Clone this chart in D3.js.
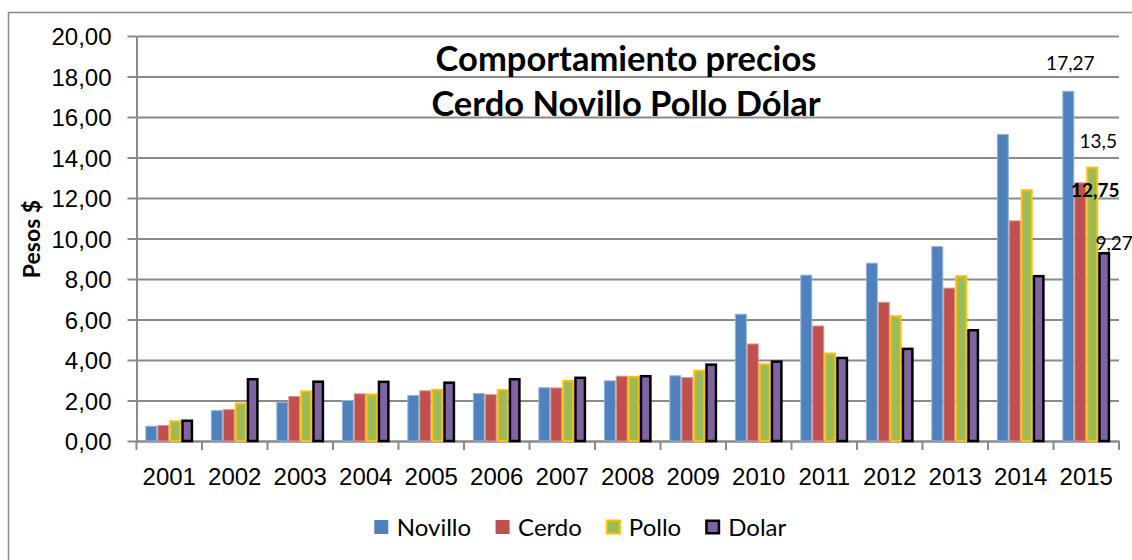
<!DOCTYPE html>
<html>
<head>
<meta charset="utf-8">
<script src="https://cdn.jsdelivr.net/npm/d3@7"></script>
<style>
  body { margin: 0; background: #fff; }
  svg { display: block; font-family: Lato, "Open Sans", sans-serif; }
</style>
</head>
<body>
<div id="chart"></div>
<script>
// data
var years = ['2001', '2002', '2003', '2004', '2005', '2006', '2007', '2008', '2009', '2010', '2011', '2012', '2013', '2014', '2015'];
var seriesNames = ['Novillo', 'Cerdo', 'Pollo', 'Dolar'];
var novillo = [0.73, 1.50, 1.90, 2.00, 2.25, 2.35, 2.63, 2.97, 3.22, 6.26, 8.19, 8.78, 9.60, 15.14, 17.27];
var cerdo = [0.77, 1.55, 2.20, 2.33, 2.48, 2.29, 2.62, 3.20, 3.13, 4.79, 5.68, 6.85, 7.55, 10.87, 12.75];
var pollo = [0.97, 1.85, 2.45, 2.30, 2.53, 2.52, 2.97, 3.17, 3.47, 3.79, 4.32, 6.16, 8.14, 12.39, 13.50];
var dolar = [1.00, 3.05, 2.93, 2.92, 2.88, 3.05, 3.12, 3.20, 3.77, 3.92, 4.10, 4.55, 5.47, 8.14, 9.27];
var yTicks = [0, 2, 4, 6, 8, 10, 12, 14, 16, 18, 20];
// data labels shown on the 2015 group
var labelSeries = ['Novillo', 'Pollo', 'Cerdo', 'Dolar'];
var labelTexts = ['17,27', '13,5', '12,75', '9,27'];

var titleLines = ['Comportamiento precios', 'Cerdo Novillo Pollo Dólar'];
var yTitle = 'Pesos $';

// styles
var colors = { Novillo: '#4f81bd', Cerdo: '#c0504d', Pollo: '#9bbb59', Dolar: '#8064a2' };
var strokes = { Novillo: '#95b3d7', Cerdo: '#d99694', Pollo: '#ffc000', Dolar: '#000' };
var strokeW = { Novillo: 1, Cerdo: 1, Pollo: 2, Dolar: 2.5 };
var labelStyle = {
  Novillo: { dx: 2, dy: -21, bold: false },
  Pollo: { dx: 6, dy: -20, bold: false },
  Cerdo: { dx: 15, dy: 14, bold: true },
  Dolar: { dx: 10, dy: -3, bold: false }
};

var W = 1132, H = 560;
var plot = { left: 136.5, right: 1119, top: 36, bottom: 441 };
var gridColor = '#8a8a8a';

var valuesBySeries = { Novillo: novillo, Cerdo: cerdo, Pollo: pollo, Dolar: dolar };
var data = years.map(function(yr, i) {
  var row = { year: yr };
  seriesNames.forEach(function(s) { row[s] = valuesBySeries[s][i]; });
  return row;
});

var svg = d3.select('#chart').append('svg')
            .attr('width', W)
            .attr('height', H);

// outer chart border
svg.append('rect')
   .attr('x', 8.5).attr('y', 12.5)
   .attr('width', W + 20).attr('height', H + 20)
   .attr('fill', '#fff')
   .attr('stroke', '#8a8a8a')
   .attr('stroke-width', 1.5);

// SCALES
var x0 = d3.scaleBand().domain(years).range([plot.left, plot.right])
           .paddingInner(0.27).paddingOuter(0.135);
var x1 = d3.scaleBand().domain(seriesNames).range([0, x0.bandwidth()]);
var y = d3.scaleLinear().domain([0, 20]).range([plot.bottom, plot.top]);

var fmt = d3.formatLocale({ decimal: ',', thousands: '.', grouping: [3], currency: ['$', ''] }).format('.2f');

// gridlines + y axis
var yAxis = d3.axisLeft(y)
              .tickValues(yTicks)
              .tickFormat(fmt)
              .tickSizeInner(-(plot.right - plot.left))
              .tickSizeOuter(0)
              .tickPadding(25);

var gY = svg.append('g')
            .attr('class', 'y axis')
            .attr('transform', 'translate(' + plot.left + ',0)')
            .call(yAxis);
gY.select('.domain').attr('stroke', gridColor).attr('stroke-width', 2);
gY.selectAll('.tick line').attr('stroke', gridColor).attr('stroke-width', 2);
gY.selectAll('.tick').append('line')
  .attr('x1', -9).attr('x2', 0)
  .attr('stroke', gridColor).attr('stroke-width', 2);
gY.selectAll('.tick text')
  .attr('font-size', 24)
  .attr('fill', '#000')
  .attr('dy', '0.36em');

// x axis: labels at band centres, ticks on band boundaries
var xAxis = d3.axisBottom(x0).tickSize(0).tickPadding(0);
var gX = svg.append('g')
            .attr('class', 'x axis')
            .attr('transform', 'translate(0,' + plot.bottom + ')')
            .call(xAxis);
gX.select('.domain').attr('stroke', gridColor).attr('stroke-width', 2);
gX.selectAll('.tick text')
  .attr('font-size', 24)
  .attr('fill', '#000')
  .attr('dy', 0)
  .attr('y', 44);

var bounds = years.map(function(yr) { return x0(yr) - x0.step() * x0.paddingInner() / 2; });
bounds.push(plot.right);
gX.selectAll('.xtick')
  .data(bounds)
  .enter().append('line')
  .attr('class', 'xtick')
  .attr('x1', d => d).attr('x2', d => d)
  .attr('y1', 0).attr('y2', 9)
  .attr('stroke', gridColor).attr('stroke-width', 2);

// bars
var groups = svg.selectAll('.group')
                .data(data)
                .enter().append('g')
                .attr('class', 'group')
                .attr('transform', d => 'translate(' + x0(d.year) + ',0)');

groups.selectAll('rect')
      .data(d => seriesNames.map(function(s) { return { key: s, value: d[s] }; }))
      .enter().append('rect')
      .attr('x', d => x1(d.key) + strokeW[d.key] / 2)
      .attr('y', d => y(d.value))
      .attr('width', d => x1.bandwidth() - strokeW[d.key])
      .attr('height', d => y(0) - y(d.value))
      .attr('fill', d => colors[d.key])
      .attr('stroke', d => strokes[d.key])
      .attr('stroke-width', d => strokeW[d.key]);

// data labels on the last year
var lastYear = years[years.length - 1];
var lastRow = data[data.length - 1];
svg.selectAll('.data-label')
   .data(labelSeries)
   .enter().append('text')
   .attr('class', 'data-label')
   .attr('text-anchor', 'middle')
   .attr('x', d => x0(lastYear) + x1(d) + x1.bandwidth() / 2 + labelStyle[d].dx)
   .attr('y', d => y(lastRow[d]) + labelStyle[d].dy)
   .attr('font-size', 19)
   .attr('font-weight', d => labelStyle[d].bold ? 700 : 400)
   .attr('fill', '#000')
   .text((d, i) => labelTexts[i]);

// title
svg.selectAll('.title')
   .data(titleLines)
   .enter().append('text')
   .attr('class', 'title')
   .attr('text-anchor', 'middle')
   .attr('x', 626)
   .attr('y', (d, i) => 71 + i * 45)
   .attr('font-size', 34.5)
   .attr('font-weight', 700)
   .attr('fill', '#000')
   .text(d => d);

// y axis label
svg.append('text')
   .attr('text-anchor', 'middle')
   .attr('transform', 'translate(40,239) rotate(-90)')
   .attr('font-size', 23)
   .attr('font-weight', 700)
   .attr('fill', '#000')
   .text(yTitle);

// legend
var legend = svg.append('g').attr('class', 'legend');
var items = legend.selectAll('.item')
                  .data(seriesNames)
                  .enter().append('g')
                  .attr('class', 'item');
items.append('rect')
     .attr('x', d => strokeW[d] / 2)
     .attr('y', d => -7.5 + strokeW[d] / 2)
     .attr('width', d => 15 - strokeW[d])
     .attr('height', d => 15 - strokeW[d])
     .attr('fill', d => colors[d])
     .attr('stroke', d => d === 'Novillo' || d === 'Cerdo' ? 'none' : strokes[d])
     .attr('stroke-width', d => strokeW[d]);
items.append('text')
     .attr('x', 23)
     .attr('y', 0)
     .attr('dy', '0.36em')
     .attr('font-size', 24)
     .attr('fill', '#000')
     .text(d => d);

var cursor = 0;
items.each(function() {
  var g = d3.select(this);
  g.attr('transform', 'translate(' + cursor + ',0)');
  cursor += 23 + g.select('text').node().getComputedTextLength() + 24;
});
cursor -= 24;
legend.attr('transform', 'translate(' + (580 - cursor / 2) + ',527)');
</script>
</body>
</html>
